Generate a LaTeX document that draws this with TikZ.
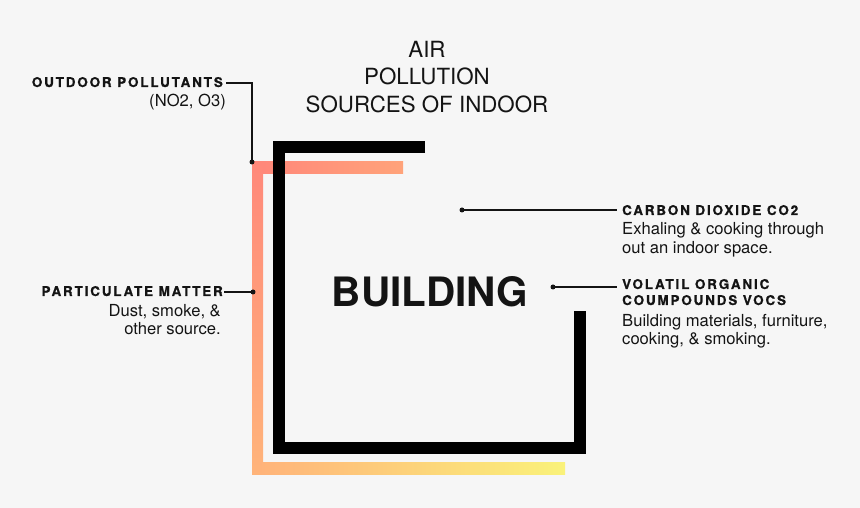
\documentclass[tikz,border=0pt]{standalone}
\usepackage{fontspec}
\setmainfont{TeX Gyre Heros}
\newfontfamily\lblfont[LetterSpace=14,BoldFeatures={FakeBold=0.8}]{TeX Gyre Heros}
\definecolor{bg}{HTML}{F6F6F6}
\definecolor{ink}{HTML}{141414}
\definecolor{gTL}{HTML}{FF887A}
\definecolor{gTR}{HTML}{FFA37A}
\definecolor{gBL}{HTML}{FFB47A}
\definecolor{gBR}{HTML}{FAF27A}
\tikzset{
  lbl/.style={inner sep=0pt, text=ink, font=\lblfont\bfseries\fontsize{13.4}{15}\selectfont},
  body/.style={inner sep=0pt, text=ink, font=\fontsize{16.6}{19}\selectfont},
  title/.style={inner sep=0pt, text=ink, font=\fontsize{22.3}{27}\selectfont},
  leader/.style={draw=ink, line width=1.2pt},
  dot/.style={circle, fill=ink, inner sep=0pt, minimum size=5pt},
  wall/.style={line width=12pt, draw=black, miter limit=10}
}
\begin{document}
\begin{tikzpicture}[x=1pt,y=1pt]
\fill[bg] (0,0) rectangle (860,508);
\useasboundingbox (0,0) rectangle (860,508);
% gradient bracket
\shade[top color=gTL, bottom color=gBL] (252,346) rectangle (263,33);
\shade[left color=gTL, right color=gTR] (262.5,346) rectangle (403,334);
\shade[left color=gBL, right color=gBR] (262.5,45) rectangle (565,33);
% black bracket
\draw[wall] (425,361) -- (279,361) -- (279,60) -- (580,60) -- (580,197);
% title
\node[title, anchor=base] (t1) at (427,450) {AIR};
\node[title, anchor=base] (t2) at (427,423) {POLLUTION};
\node[title, anchor=base] (t3) at (427,395) {SOURCES OF INDOOR};
\node[inner sep=0pt, text=ink, anchor=base, font=\bfseries\fontsize{40.5}{44}\selectfont] (bld) at (430,201) {BUILDING};
% outdoor pollutants
\node[lbl, anchor=base east] (out) at (223,421) {OUTDOOR POLLUTANTS};
\node[body, anchor=base east] (outs) at (226,401) {(NO2, O3)};
\node[dot] (dout) at (252,346) {};
\coordinate (kout) at (252,425);
\draw[leader] (226,425) -- (kout) -- (dout.center);
% particulate matter
\node[lbl, anchor=base east] (pm) at (223,212) {PARTICULATE MATTER};
\node[body, anchor=base east] (pm1) at (221,191) {Dust, smoke, \&};
\node[body, anchor=base east] (pm2) at (221,173) {other source.};
\node[dot] (dpm) at (253,216) {};
\draw[leader] (224,216) -- (dpm.center);
% carbon dioxide
\node[lbl, anchor=base west] (co) at (622,293) {CARBON DIOXIDE CO2};
\node[body, anchor=base west] (co1) at (622,273) {Exhaling \& cooking through};
\node[body, anchor=base west] (co2) at (622,254) {out an indoor space.};
\node[dot] (dco) at (462,298) {};
\draw[leader] (dco.center) -- (617,298);
% vocs
\node[lbl, anchor=base west] (voc1) at (622,219) {VOLATIL ORGANIC};
\node[lbl, anchor=base west] (voc2) at (622,203) {COUMPOUNDS VOCS};
\node[body, anchor=base west] (vb1) at (622,181) {Building materials, furniture,};
\node[body, anchor=base west] (vb2) at (622,163) {cooking, \& smoking.};
\node[dot] (dvoc) at (553,221) {};
\draw[leader] (dvoc.center) -- (617,221);
\end{tikzpicture}
\end{document}
